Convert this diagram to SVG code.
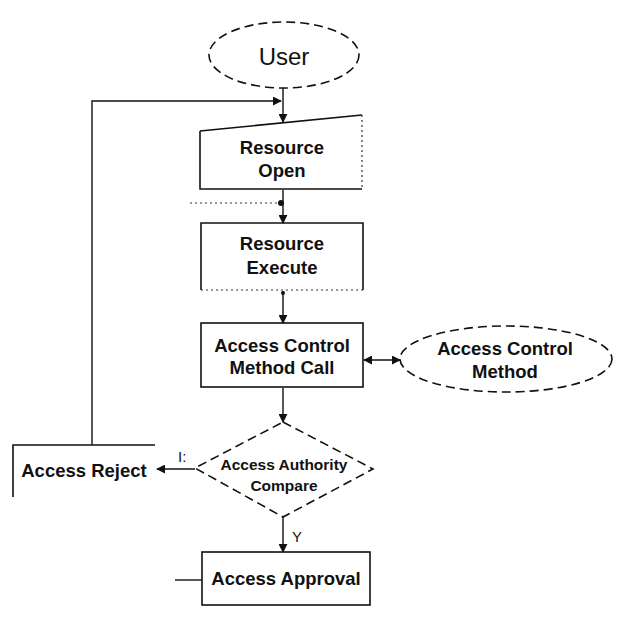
<svg xmlns="http://www.w3.org/2000/svg" width="621" height="626" viewBox="0 0 621 626">
  <style>
    .bg { fill: #ffffff; }
    .box { fill: none; stroke: #111; stroke-width: 1.6; }
    .faint { fill: none; stroke: #333; stroke-width: 1.2; stroke-dasharray: 2 3; }
    .dash { fill: none; stroke: #111; stroke-width: 1.6; stroke-dasharray: 9 5; }
    .wire { fill: none; stroke: #111; stroke-width: 1.4; }
    .label { font-family: "Liberation Sans", Arial, sans-serif; font-weight: bold; font-size: 18.5px; fill: #111; text-anchor: middle; }
    .small { font-family: "Liberation Sans", Arial, sans-serif; font-weight: bold; font-size: 15.5px; fill: #111; text-anchor: middle; }
    .tag { font-family: "Liberation Sans", Arial, sans-serif; font-size: 15px; fill: #111; }
  </style>
  <defs>
    <marker id="head" viewBox="0 0 10 10" refX="9" refY="5" markerWidth="9" markerHeight="9" markerUnits="userSpaceOnUse" orient="auto-start-reverse">
      <path d="M0,0 L10,5 L0,10 z" fill="#111"/>
    </marker>
  </defs>
  <rect class="bg" x="0" y="0" width="621" height="626"/>

  <!-- connectors -->
  <g id="connectors">
    <line class="wire" x1="283" y1="88" x2="283" y2="122" marker-end="url(#head)"/>
    <polyline class="wire" points="92,445 92,101 281,101" marker-end="url(#head)"/>
    <line class="wire" x1="283" y1="190" x2="283" y2="223" marker-end="url(#head)"/>
    <line class="faint" x1="190" y1="203" x2="280" y2="203"/>
    <circle cx="281" cy="203" r="3" fill="#111"/>
    <line class="wire" x1="283" y1="291" x2="283" y2="323" marker-end="url(#head)"/>
    <circle cx="283" cy="293" r="2" fill="#111"/>
    <line class="wire" x1="364" y1="360" x2="400" y2="360" marker-start="url(#head)" marker-end="url(#head)"/>
    <line class="wire" x1="283" y1="388" x2="283" y2="422" marker-end="url(#head)"/>
    <line class="wire" x1="195" y1="469" x2="157" y2="469" marker-end="url(#head)"/>
    <text class="tag" x="178" y="462">I:</text>
    <line class="wire" x1="283" y1="517" x2="283" y2="552" marker-end="url(#head)"/>
    <text class="tag" x="292" y="542">Y</text>
    <line class="wire" x1="175" y1="580" x2="202" y2="580"/>
  </g>

  <!-- start terminal -->
  <g id="user">
    <ellipse class="dash" cx="284" cy="55" rx="75" ry="33"/>
    <text x="284" y="65" font-family="Liberation Sans, Arial, sans-serif" font-size="24" fill="#111" text-anchor="middle">User</text>
  </g>

  <g id="resource-open">
    <path class="box" d="M200,131 L362,115 M200,131 V189 H362"/>
    <line class="faint" x1="362" y1="115" x2="362" y2="189"/>
    <text class="label" x="282" y="154">Resource</text>
    <text class="label" x="282" y="177">Open</text>
  </g>

  <g id="resource-execute">
    <path class="box" d="M201,290 V223 H363 V290"/>
    <line class="faint" x1="201" y1="290" x2="363" y2="290"/>
    <text class="label" x="282" y="250">Resource</text>
    <text class="label" x="282" y="274">Execute</text>
  </g>

  <g id="method-call">
    <rect class="box" x="201" y="323" width="162" height="64"/>
    <text class="label" x="282" y="352">Access Control</text>
    <text class="label" x="282" y="374">Method Call</text>
  </g>

  <g id="control-method">
    <ellipse class="dash" cx="506" cy="359" rx="106" ry="33"/>
    <text class="label" x="505" y="355">Access Control</text>
    <text class="label" x="505" y="378">Method</text>
  </g>

  <g id="authority-compare">
    <polygon class="dash" points="283,422 373,469 283,517 195,468"/>
    <text class="small" x="284" y="470">Access Authority</text>
    <text class="small" x="284" y="491">Compare</text>
  </g>

  <g id="access-reject">
    <path class="box" d="M155,445 H13 V497"/>
    <text class="label" x="84" y="477">Access Reject</text>
  </g>

  <g id="access-approval">
    <rect class="box" x="202" y="552" width="168" height="53"/>
    <text class="label" x="286" y="585">Access Approval</text>
  </g>
</svg>
